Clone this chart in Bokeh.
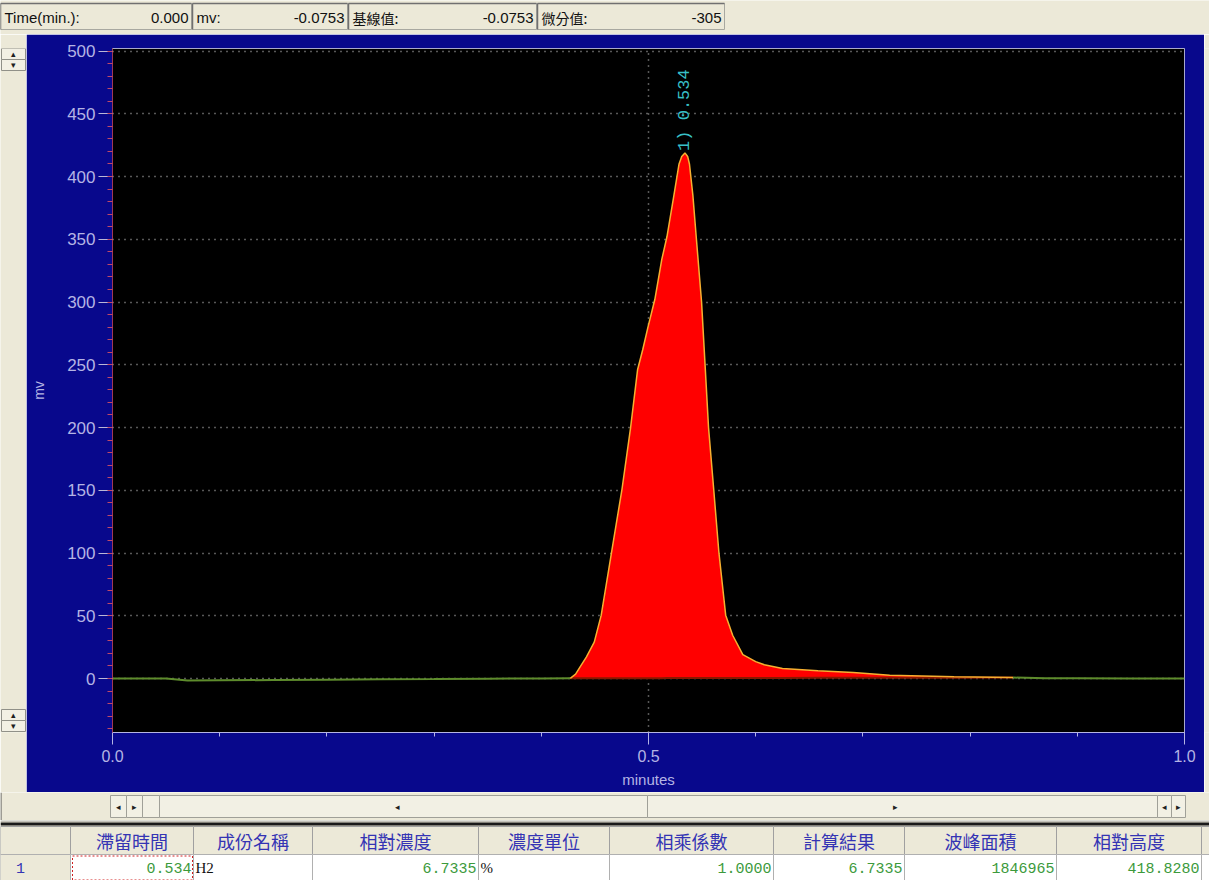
import numpy as np
from math import pi
from bokeh.plotting import figure
from bokeh.models import Range1d, SingleIntervalTicker, PrintfTickFormatter
from bokeh.layouts import column, row
from bokeh.core.properties import value
from bokeh.embed import file_html
from bokeh.resources import INLINE

# ---------------- data ----------------
time_min = [0.000, 0.050, 0.070, 0.100, 0.150, 0.200, 0.250, 0.300, 0.350, 0.400, 0.427,
            0.432, 0.4365, 0.442, 0.4494, 0.4559, 0.4656, 0.4753, 0.4833, 0.4898, 0.4946,
            0.4995, 0.5059, 0.5124, 0.5172, 0.5237, 0.5285, 0.531, 0.534, 0.5365, 0.5382,
            0.5414, 0.5447, 0.5495, 0.5527, 0.556, 0.5608, 0.5656, 0.572, 0.5785, 0.588,
            0.600, 0.608, 0.625, 0.658, 0.691, 0.725, 0.785, 0.840, 0.870, 0.900, 0.950, 1.000]
signal_mv = [0.0, 0.0, -1.5, -1.4, -1.2, -0.9, -0.6, -0.4, -0.1, 0.1, 0.2,
             3.5, 9.7, 17.0, 29.0, 50.5, 101.0, 151.0, 200.0, 246.0, 262.0,
             280.0, 302.0, 334.0, 352.0, 385.0, 410.0, 416.0, 418.8, 416.0, 410.0,
             385.0, 350.0, 300.0, 251.0, 200.0, 151.0, 101.0, 50.5, 34.5, 19.0,
             13.5, 11.0, 8.0, 6.2, 4.9, 2.7, 1.4, 0.8, 0.3, 0.2, 0.1, 0.1]
peak_start = 0.427
peak_end = 0.840
peak_no = 1
peak_rt = 0.534

status_labels = ["Time(min.):", "mv:", "基線值:", "微分值:"]
status_values = ["0.000", "-0.0753", "-0.0753", "-305"]

table_headers = ["滯留時間", "成份名稱", "相對濃度", "濃度單位", "相乘係數", "計算結果", "波峰面積", "相對高度"]
row_retention = 0.534
row_name = "H2"
row_rel_conc = 6.7335
row_unit = "%"
row_factor = 1.0000
row_result = 6.7335
row_area = 1846965
row_height = 418.8280

# ---------------- styles ----------------
BEIGE = "#ece9d8"
NAVY = "#08088c"
LAV = "#b4b4e4"
GREEN = "#5e8c2c"
MONO = value("Liberation Mono")
SANS = value("Liberation Sans")
CJK = value("Noto Sans CJK TC")

ROW_H = 758
BORDER_T, BORDER_B = 14, 60


def canvas(w, h, bg=BEIGE, y0=0, y1=None, **kw):
    y1 = h if y1 is None else y1
    f = figure(width=w, height=h, x_range=Range1d(0, w), y_range=Range1d(y1, y0),
               x_axis_type=None, y_axis_type=None, toolbar_location=None,
               output_backend="svg", outline_line_color=None,
               background_fill_color=bg, border_fill_color=bg, **kw)
    f.grid.visible = False
    return f


# ---------------- status bar ----------------
status = canvas(1209, 34, min_border=0)
box_l = [0, 192, 348, 537]
box_r = [191, 347, 536, 724]
status.quad(left=box_l, right=box_r, top=[3] * 4, bottom=[29] * 4,
            fill_color=BEIGE, line_color="#a8a8a0")
status.segment(x0=box_l, y0=[3] * 4, x1=box_r, y1=[3] * 4, line_color="#707070", line_width=1.5)
status.segment(x0=box_l, y0=[3] * 4, x1=box_l, y1=[29] * 4, line_color="#707070", line_width=1.5)
for i, (lab, val) in enumerate(zip(status_labels, status_values)):
    font = CJK if i >= 2 else SANS
    status.text(x=[box_l[i] + 4], y=[17], text=[lab], text_font=font,
                text_font_size="14px" if i >= 2 else "15px",
                text_baseline="middle", text_align="left", text_color="#111111")
    status.text(x=[box_r[i] - 3], y=[17], text=[val], text_font=SANS, text_font_size="15px",
                text_baseline="middle", text_align="right", text_color="#111111")

# ---------------- left / right panels (frames aligned with chart frame) ----------------
left = canvas(26, ROW_H, y0=BORDER_T, y1=ROW_H - BORDER_B,
              min_border_left=0, min_border_right=0,
              min_border_top=BORDER_T, min_border_bottom=BORDER_B)
btn_top = [14, 25, 675, 686]
btn_bot = [25, 36, 686, 697]
left.quad(left=[1] * 4, right=[25] * 4, top=btn_top, bottom=btn_bot,
          fill_color="#f2f0e4", line_color="#909088")
left.text(x=[13] * 4, y=[(a + b) / 2 for a, b in zip(btn_top, btn_bot)],
          text=["▴", "▾", "▴", "▾"], text_font_size="9px", text_align="center",
          text_baseline="middle", text_color="#202020")

right = canvas(5, ROW_H, y0=BORDER_T, y1=ROW_H - BORDER_B,
               min_border_left=0, min_border_right=0,
               min_border_top=BORDER_T, min_border_bottom=BORDER_B)

# ---------------- chart ----------------
p = figure(width=1178, height=ROW_H, x_range=Range1d(0.0, 1.0), y_range=Range1d(-43, 502),
           toolbar_location=None, output_backend="svg",
           background_fill_color="#000000", border_fill_color=NAVY,
           min_border_left=86, min_border_right=20,
           min_border_top=BORDER_T, min_border_bottom=BORDER_B,
           outline_line_color="#a8a8cc")

p.xaxis.ticker = SingleIntervalTicker(interval=0.5, num_minor_ticks=5)
p.yaxis.ticker = SingleIntervalTicker(interval=50, num_minor_ticks=5)
p.xaxis.formatter = PrintfTickFormatter(format="%.1f")
p.yaxis.formatter = PrintfTickFormatter(format="%d")
p.xaxis.axis_label = "minutes"
p.yaxis.axis_label = "mv"

for ax in (p.xaxis, p.yaxis):
    ax.major_label_text_color = LAV
    ax.major_label_text_font = "Liberation Sans"
    ax.axis_label_text_color = LAV
    ax.axis_label_text_font = "Liberation Sans"
    ax.axis_label_text_font_style = "normal"
    ax.major_tick_in = 0
    ax.minor_tick_in = 0

p.xaxis.major_label_text_font_size = "16px"
p.xaxis.axis_label_text_font_size = "15px"
p.xaxis.axis_line_color = LAV
p.xaxis.major_tick_line_color = LAV
p.xaxis.minor_tick_line_color = LAV
p.xaxis.major_tick_out = 12
p.xaxis.minor_tick_out = 4
p.xaxis.major_label_standoff = 5
p.xaxis.axis_label_standoff = 6

p.yaxis.major_label_text_font_size = "17px"
p.yaxis.axis_label_text_font_size = "14px"
p.yaxis.axis_line_color = "#a03858"
p.yaxis.major_tick_line_color = "#b8b8d8"
p.yaxis.minor_tick_line_color = "#c04868"
p.yaxis.major_tick_out = 14
p.yaxis.minor_tick_out = 5
p.yaxis.major_label_standoff = 3
p.yaxis.axis_label_standoff = 17

p.grid.grid_line_color = "#b0b0b0"
p.grid.grid_line_dash = "1 5"
p.grid.grid_line_width = 1.5

t = np.array(time_min)
s = np.array(signal_mv)
inpk = (t >= peak_start) & (t <= peak_end)
tp, sp = t[inpk], s[inpk]
s0 = np.interp(peak_start, t, s)
s1 = np.interp(peak_end, t, s)
base = np.interp(tp, [peak_start, peak_end], [s0, s1])

p.varea(x=tp, y1=base, y2=sp, fill_color="#ff0000")
p.line(t[t <= peak_start], s[t <= peak_start], line_color=GREEN, line_width=2)
p.line(t[t >= peak_end], s[t >= peak_end], line_color=GREEN, line_width=2)
p.line(tp, base, line_color="#8a1800", line_width=2)
p.line(tp, sp, line_color="#f5b030", line_width=1.5)

apex = s[np.argmin(np.abs(t - peak_rt))]
p.text(x=[peak_rt], y=[apex], text=[f"{peak_no}) {peak_rt:.3f}"], angle=pi / 2,
       text_align="left", text_baseline="middle", y_offset=-2,
       text_color="#38c0c8", text_font=MONO, text_font_size="17px")

# ---------------- scroll bar ----------------
scroll = canvas(1209, 28, min_border=0)
scroll.segment(x0=[0.5], y0=[0], x1=[0.5], y1=[28], line_color="#505050")
sb_l = [110, 126, 142, 159, 647, 1157, 1171]
sb_r = [126, 142, 159, 647, 1157, 1171, 1185]
scroll.quad(left=sb_l, right=sb_r, top=[3] * 7, bottom=[25] * 7,
            fill_color="#f2f0e4", line_color="#a0a098")
scroll.text(x=[118, 134, 397, 895, 1164, 1178], y=[14] * 6,
            text=["◂", "▸", "◂", "▸", "◂", "▸"], text_font_size="9px",
            text_align="center", text_baseline="middle", text_color="#202020")

# ---------------- table ----------------
table = canvas(1209, 60, min_border=0)
table.segment(x0=[0], y0=[0.5], x1=[1209], y1=[0.5], line_color="#9a9a9a", line_width=1)
table.segment(x0=[0], y0=[3.5], x1=[1209], y1=[3.5], line_color="#1a1a1a", line_width=3)
edges = [0, 70, 193, 312, 478, 609, 773, 904, 1056, 1201, 1260]
lefts, rights = edges[:-1], edges[1:]
ncol = len(lefts)
table.quad(left=lefts, right=rights, top=[6] * ncol, bottom=[34] * ncol,
           fill_color=BEIGE, line_color="#a0a0a0")
table.quad(left=lefts, right=rights, top=[34] * ncol, bottom=[61] * ncol,
           fill_color=["#ece9d8"] + ["#ffffff"] * (ncol - 1), line_color="#b0b0b0")
hx = [(a + b) / 2 for a, b in zip(lefts[1:9], rights[1:9])]
table.text(x=hx, y=[20] * len(hx), text=table_headers, text_font=CJK, text_font_size="18px",
           text_align="center", text_baseline="middle", text_color="#3434b4")
table.text(x=[20], y=[47], text=["1"], text_font=MONO, text_font_size="15px",
           text_align="center", text_baseline="middle", text_color="#3434b4")
num_vals = [f"{row_retention:.3f}", f"{row_rel_conc:.4f}", f"{row_factor:.4f}",
            f"{row_result:.4f}", f"{row_area:d}", f"{row_height:.4f}"]
num_cols = [1, 3, 5, 6, 7, 8]
table.text(x=[rights[c] - 2 for c in num_cols], y=[47] * len(num_cols), text=num_vals,
           text_font=MONO, text_font_size="15px", text_align="right",
           text_baseline="middle", text_color="#3c9a3c")
table.text(x=[lefts[2] + 2, lefts[4] + 2], y=[47, 47], text=[row_name, row_unit],
           text_font=value("Liberation Serif"), text_font_size="15px", text_align="left",
           text_baseline="middle", text_color="#111111")
table.quad(left=[72], right=[192], top=[35.5], bottom=[59.5], fill_color=None,
           line_color="#d02020", line_dash="2 2", line_width=1)

layout = column(status, row(left, p, right, spacing=0), scroll, table, spacing=0)

with open("out.html", "w") as fh:
    fh.write(file_html(layout, INLINE))
